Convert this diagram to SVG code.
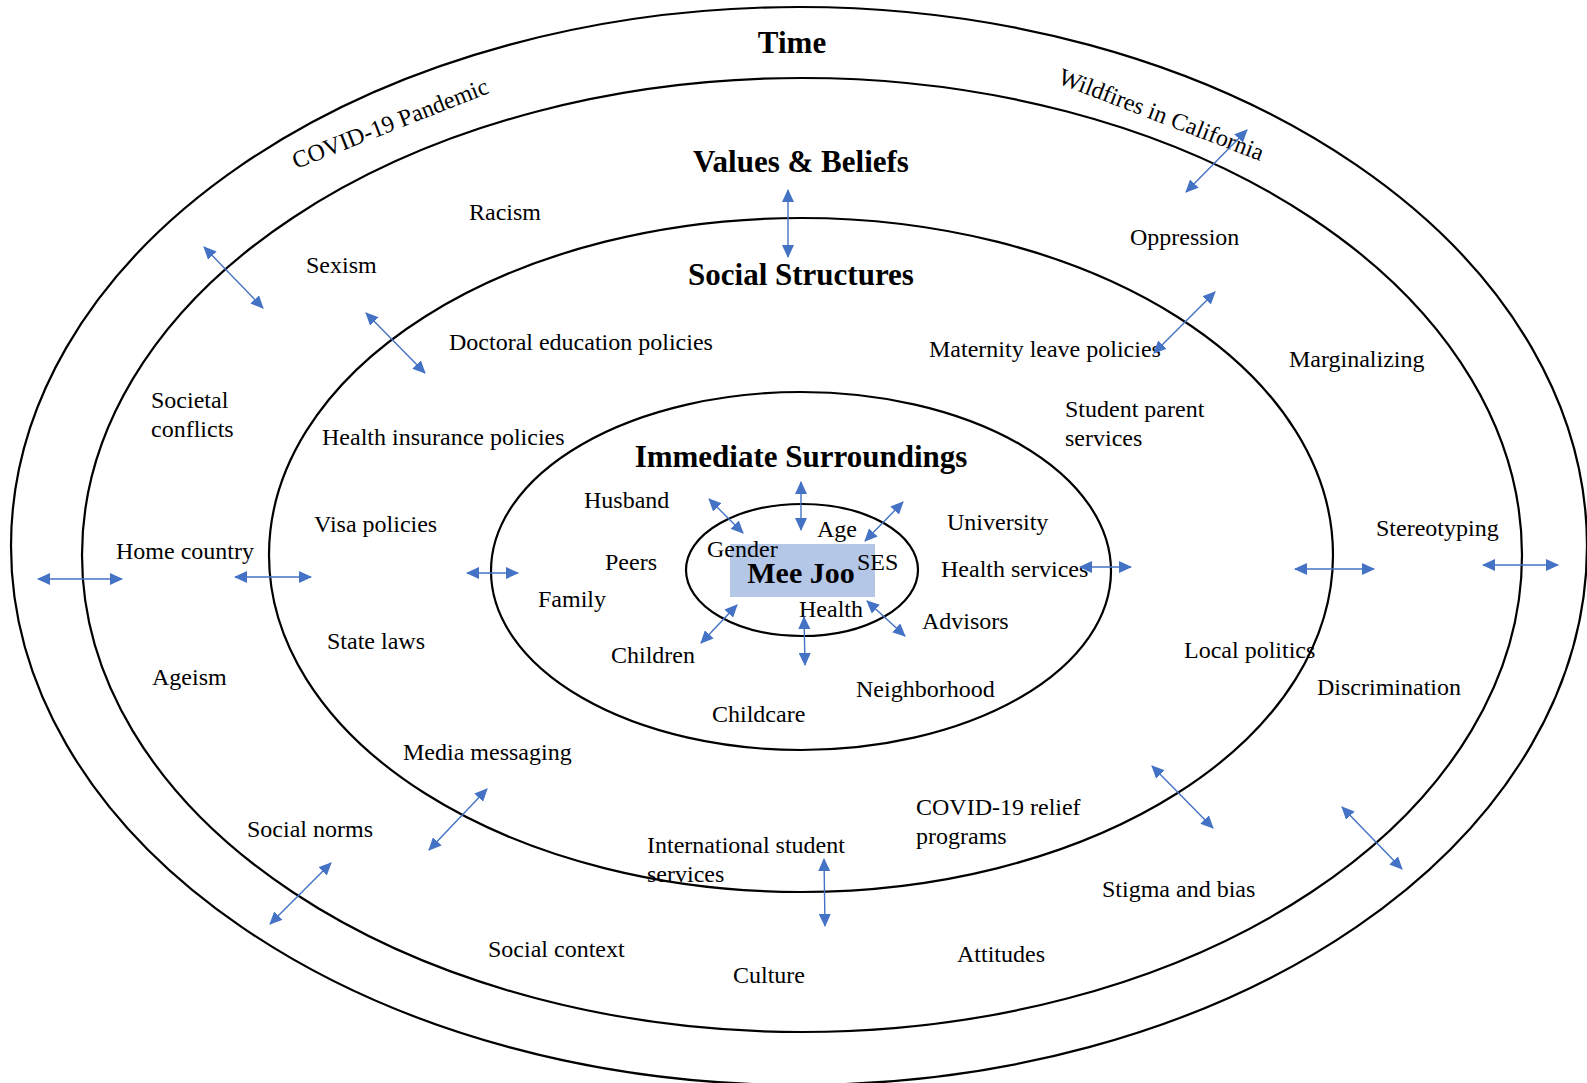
<svg xmlns="http://www.w3.org/2000/svg" width="1587" height="1083" viewBox="0 0 1587 1083">
<style>
.ring{fill:none;stroke:#000;stroke-width:2.2}
.lbl{font-family:"Liberation Serif","Times New Roman",serif;font-size:24px;fill:#000}
.ttl{font-family:"Liberation Serif","Times New Roman",serif;font-size:31px;font-weight:bold;fill:#000;text-anchor:middle}
.arr{stroke:#4472C4;stroke-width:1.4;fill:none;marker-start:url(#ah);marker-end:url(#ah)}
</style>
<defs>
<marker id="ah" viewBox="0 0 13 12" refX="12" refY="6" markerWidth="13" markerHeight="12" markerUnits="userSpaceOnUse" orient="auto-start-reverse">
<path d="M0,0 L13,6 L0,12 z" fill="#4472C4"/>
</marker>
</defs>
<rect width="1587" height="1083" fill="#fff"/>
<g id="rings">
<ellipse id="ring-time" class="ring" cx="799" cy="546" rx="788" ry="539"/>
<ellipse id="ring-values" class="ring" cx="802" cy="555" rx="720" ry="477"/>
<ellipse id="ring-social" class="ring" cx="801" cy="555" rx="532" ry="337"/>
<ellipse id="ring-immediate" class="ring" cx="801" cy="571" rx="310" ry="179"/>
<ellipse id="ring-self" class="ring" cx="802" cy="570" rx="116" ry="66"/>
</g>
<g id="node-meejoo">
<rect x="730" y="544" width="145" height="53" fill="#B4C7E7"/>
</g>
<g id="titles">
<text id="t-time" class="ttl" x="792" y="53">Time</text>
<text id="t-values" class="ttl" x="801" y="172">Values &amp; Beliefs</text>
<text id="t-social" class="ttl" x="801" y="285">Social Structures</text>
<text id="t-immediate" class="ttl" x="801" y="467">Immediate Surroundings</text>
</g>
<g id="labels">
<g id="n-covid"><text class="lbl" transform="translate(296,169) rotate(-21.5)">COVID-19 Pandemic</text></g>
<g id="n-wildfires"><text class="lbl" transform="translate(1057,83) rotate(21)">Wildfires in California</text></g>
<g id="n-racism"><text class="lbl" x="469" y="220">Racism</text></g>
<g id="n-sexism"><text class="lbl" x="306" y="273">Sexism</text></g>
<g id="n-doctoral"><text class="lbl" x="449" y="350">Doctoral education policies</text></g>
<g id="n-oppression"><text class="lbl" x="1130" y="245">Oppression</text></g>
<g id="n-maternity"><text class="lbl" x="929" y="357">Maternity leave policies</text></g>
<g id="n-marginalizing"><text class="lbl" x="1289" y="367">Marginalizing</text></g>
<g id="n-societal"><text class="lbl" x="151" y="408">Societal</text><text class="lbl" x="151" y="437">conflicts</text></g>
<g id="n-healthins"><text class="lbl" x="322" y="445">Health insurance policies</text></g>
<g id="n-studentparent"><text class="lbl" x="1065" y="417">Student parent</text><text class="lbl" x="1065" y="446">services</text></g>
<g id="n-visa"><text class="lbl" x="314" y="532">Visa policies</text></g>
<g id="n-home"><text class="lbl" x="116" y="559">Home country</text></g>
<g id="n-husband"><text class="lbl" x="584" y="508">Husband</text></g>
<g id="n-peers"><text class="lbl" x="605" y="570">Peers</text></g>
<g id="n-family"><text class="lbl" x="538" y="607">Family</text></g>
<g id="n-university"><text class="lbl" x="947" y="530">University</text></g>
<g id="n-healthsvc"><text class="lbl" x="941" y="577">Health services</text></g>
<g id="n-stereotyping"><text class="lbl" x="1376" y="536">Stereotyping</text></g>
<g id="n-age"><text class="lbl" x="817" y="537">Age</text></g>
<g id="n-gender"><text class="lbl" x="707" y="557">Gender</text></g>
<g id="n-ses"><text class="lbl" x="857" y="570">SES</text></g>
<g id="n-health"><text class="lbl" x="799" y="617">Health</text></g>
<g id="n-advisors"><text class="lbl" x="922" y="629">Advisors</text></g>
<g id="n-statelaws"><text class="lbl" x="327" y="649">State laws</text></g>
<g id="n-children"><text class="lbl" x="611" y="663">Children</text></g>
<g id="n-localpolitics"><text class="lbl" x="1184" y="658">Local politics</text></g>
<g id="n-ageism"><text class="lbl" x="152" y="685">Ageism</text></g>
<g id="n-discrimination"><text class="lbl" x="1317" y="695">Discrimination</text></g>
<g id="n-neighborhood"><text class="lbl" x="856" y="697">Neighborhood</text></g>
<g id="n-childcare"><text class="lbl" x="712" y="722">Childcare</text></g>
<g id="n-media"><text class="lbl" x="403" y="760">Media messaging</text></g>
<g id="n-covidrelief"><text class="lbl" x="916" y="815">COVID-19 relief</text><text class="lbl" x="916" y="844">programs</text></g>
<g id="n-socialnorms"><text class="lbl" x="247" y="837">Social norms</text></g>
<g id="n-intl"><text class="lbl" x="647" y="853">International student</text><text class="lbl" x="647" y="882">services</text></g>
<g id="n-stigma"><text class="lbl" x="1102" y="897">Stigma and bias</text></g>
<g id="n-socialcontext"><text class="lbl" x="488" y="957">Social context</text></g>
<g id="n-attitudes"><text class="lbl" x="957" y="962">Attitudes</text></g>
<g id="n-culture"><text class="lbl" x="733" y="983">Culture</text></g>
<g id="n-meejoo-label"><text class="ttl" x="801" y="583" style="font-size:30px">Mee Joo</text></g>
</g>
<g id="connectors">
<line class="arr" x1="38" y1="579" x2="122" y2="579"/>
<line class="arr" x1="235" y1="577" x2="311" y2="577"/>
<line class="arr" x1="467" y1="573" x2="518" y2="573"/>
<line class="arr" x1="1080" y1="567" x2="1131" y2="567"/>
<line class="arr" x1="1295" y1="569" x2="1374" y2="569"/>
<line class="arr" x1="1483" y1="565" x2="1558" y2="565"/>
<line class="arr" x1="204" y1="247" x2="263" y2="308"/>
<line class="arr" x1="366" y1="313" x2="425" y2="373"/>
<line class="arr" x1="788" y1="190" x2="788" y2="257"/>
<line class="arr" x1="1247" y1="130" x2="1186" y2="192"/>
<line class="arr" x1="1215" y1="292" x2="1154" y2="353"/>
<line class="arr" x1="709" y1="499" x2="743" y2="533"/>
<line class="arr" x1="801" y1="482" x2="801" y2="530"/>
<line class="arr" x1="903" y1="502" x2="865" y2="541"/>
<line class="arr" x1="737" y1="605" x2="701" y2="643"/>
<line class="arr" x1="804" y1="617" x2="805" y2="665"/>
<line class="arr" x1="867" y1="601" x2="905" y2="636"/>
<line class="arr" x1="487" y1="789" x2="429" y2="850"/>
<line class="arr" x1="331" y1="863" x2="270" y2="924"/>
<line class="arr" x1="824" y1="859" x2="825" y2="926"/>
<line class="arr" x1="1152" y1="766" x2="1213" y2="828"/>
<line class="arr" x1="1342" y1="807" x2="1402" y2="869"/>
</g>
</svg>
